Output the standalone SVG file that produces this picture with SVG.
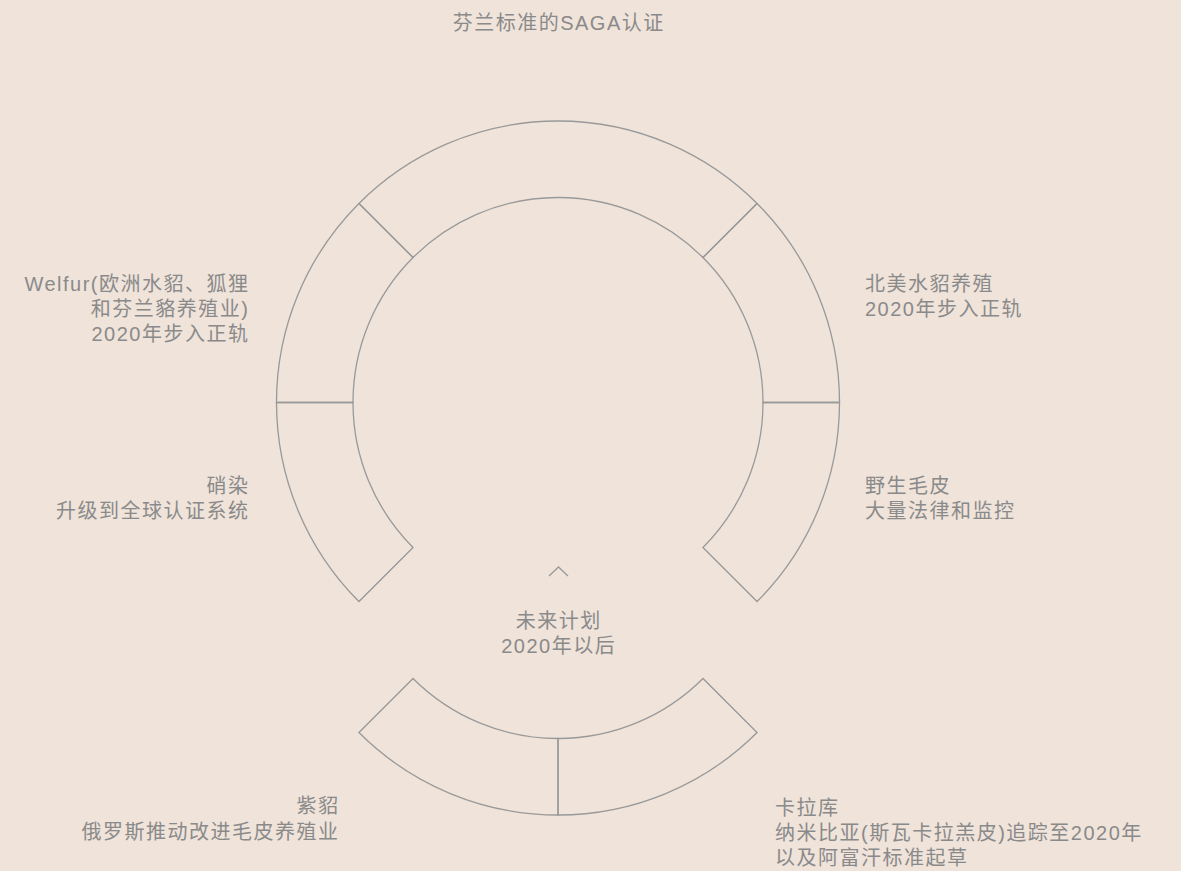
<svg xmlns="http://www.w3.org/2000/svg" width="1181" height="871" viewBox="0 0 1181 871">
<style>
.bg{fill:#efe3da}
.seg{fill:none;stroke:#999999;stroke-width:1.3}
.t{font-family:"Liberation Sans","Noto Sans CJK SC",sans-serif;font-size:20px;letter-spacing:1.5px;fill:#8a8a8a}
.e{text-anchor:end}
.m{text-anchor:middle}
</style>
<rect class="bg" x="0" y="0" width="1181" height="871"/>
<g id="connectors">
<path class="seg" d="M549,576 L558.5,567 L568,576"/>
</g>
<g id="title"><text class="t m" x="558.7" y="30">芬兰标准的SAGA认证</text></g>
<g id="seg-top"><path class="seg" d="M358.95,203.45 A281.5,281.5 0 0 1 757.05,203.45 L702.96,257.54 A205,205 0 0 0 413.04,257.54 Z"/></g>
<g id="seg-upper-right">
<path class="seg" d="M757.05,203.45 A281.5,281.5 0 0 1 839.5,402.5 L763,402.5 A205,205 0 0 0 702.96,257.54 Z"/>
<text class="t" x="865" y="291">北美水貂养殖</text>
<text class="t" x="865" y="316">2020年步入正轨</text>
</g>
<g id="seg-lower-right">
<path class="seg" d="M839.5,402.5 A281.5,281.5 0 0 1 757.05,601.55 L702.96,547.46 A205,205 0 0 0 763,402.5 Z"/>
<text class="t" x="865" y="493">野生毛皮</text>
<text class="t" x="865" y="518">大量法律和监控</text>
</g>
<g id="seg-lower-left">
<path class="seg" d="M358.95,601.55 A281.5,281.5 0 0 1 276.5,402.5 L353,402.5 A205,205 0 0 0 413.04,547.46 Z"/>
<text class="t e" x="249.5" y="493">硝染</text>
<text class="t e" x="249.5" y="518">升级到全球认证系统</text>
</g>
<g id="seg-upper-left">
<path class="seg" d="M276.5,402.5 A281.5,281.5 0 0 1 358.95,203.45 L413.04,257.54 A205,205 0 0 0 353,402.5 Z"/>
<text class="t e" x="249.5" y="291">Welfur(欧洲水貂、狐狸</text>
<text class="t e" x="249.5" y="316">和芬兰貉养殖业)</text>
<text class="t e" x="249.5" y="341">2020年步入正轨</text>
</g>
<g id="future">
<text class="t m" x="558.7" y="628">未来计划</text>
<text class="t m" x="558.7" y="653">2020年以后</text>
</g>
<g id="seg-bottom-right">
<path class="seg" d="M757.05,732.55 A281.5,281.5 0 0 1 558,815 L558,738.5 A205,205 0 0 0 702.96,678.46 Z"/>
<text class="t" x="775" y="815">卡拉库</text>
<text class="t" x="775" y="840">纳米比亚(斯瓦卡拉羔皮)追踪至2020年</text>
<text class="t" x="775" y="865">以及阿富汗标准起草</text>
</g>
<g id="seg-bottom-left">
<path class="seg" d="M558,815 A281.5,281.5 0 0 1 358.95,732.55 L413.04,678.46 A205,205 0 0 0 558,738.5 Z"/>
<text class="t e" x="339.5" y="813">紫貂</text>
<text class="t e" x="339.5" y="839">俄罗斯推动改进毛皮养殖业</text>
</g>
</svg>
